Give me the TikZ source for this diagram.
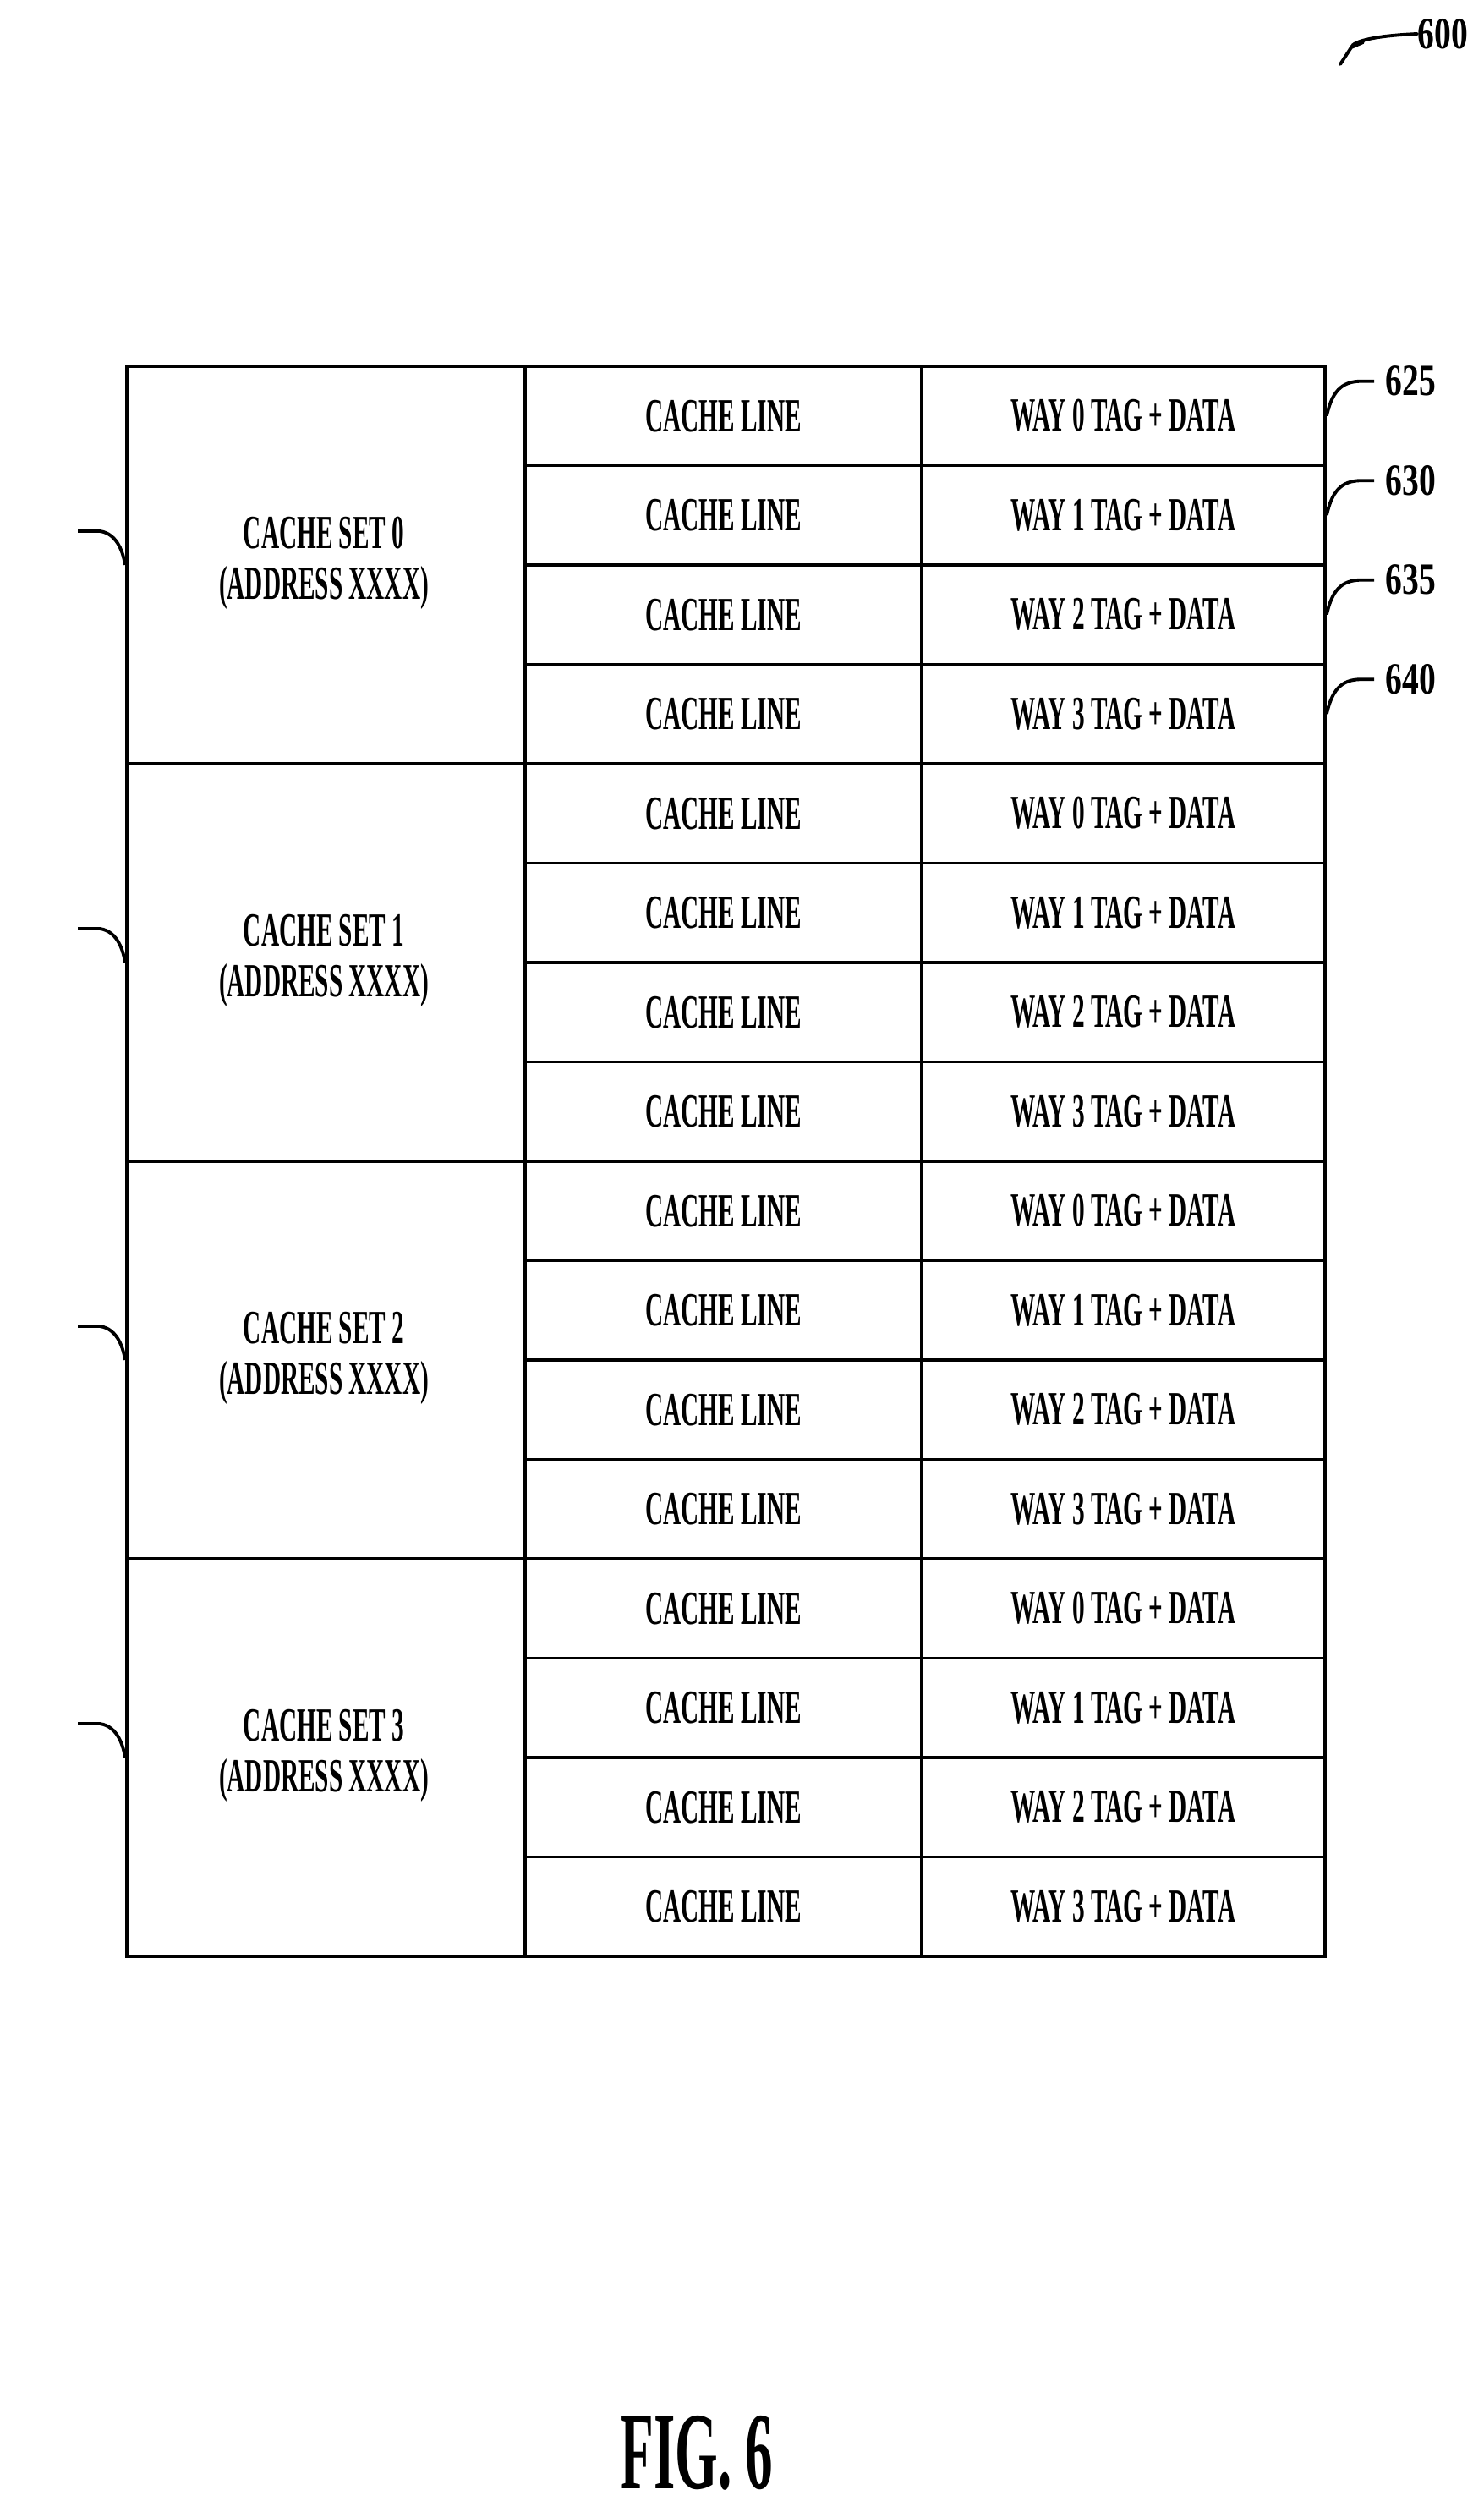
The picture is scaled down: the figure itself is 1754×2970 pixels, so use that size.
\documentclass[tikz,border=0pt]{standalone}
\usepackage{fontspec}
\setmainfont{Liberation Serif}
\usetikzlibrary{arrows.meta}
\newcommand{\cond}[2]{\scalebox{#1}[1]{#2}}
\begin{document}
\begin{tikzpicture}[x=0.01cm,y=-0.01cm,
  box/.style={draw,line width=1.1pt},
  txt/.style={font=\fontsize{16}{19}\selectfont\bfseries,align=center,inner sep=0},
  lab/.style={font=\fontsize{15}{18}\selectfont\bfseries,inner sep=0},
  lead/.style={line width=1.1pt}]
\useasboundingbox (0,0) rectangle (1754,2970);
% table
\foreach \s in {0,...,3}{
  \pgfmathsetmacro{\ty}{431+\s*470}
  \node[box,minimum width=471*0.01cm,minimum height=470*0.01cm,anchor=north west] (set\s) at (148,\ty) {};
  \node[txt] (st\s) at (383,\ty+235) {\cond{0.52}{CACHE SET \s}\\[-2pt]\cond{0.52}{(ADDRESS \ifcase\s 00\or 01\or 10\or 11\fi XXXX)}};
  \foreach \w in {0,...,3}{
    \pgfmathsetmacro{\ry}{\ty+\w*117.5}
    \node[box,minimum width=469*0.01cm,minimum height=117.5*0.01cm,anchor=north west] (cl\s\w) at (619,\ry) {};
    \node[box,minimum width=477*0.01cm,minimum height=117.5*0.01cm,anchor=north west] (wy\s\w) at (1088,\ry) {};
    \node[txt] at (cl\s\w.center) {\cond{0.52}{CACHE LINE}};
    \node[txt] at (wy\s\w.center) {\cond{0.52}{WAY \w{} TAG + DATA}};
  }
  \node[lab,font=\fontsize{14}{17}\selectfont\mdseries\bfseries] (L\s) at (47,\ty+194) {\cond{0.62}{\ifcase\s 605\or 610\or 615\or 620\fi}};
  \coordinate (a\s) at (92,\ty+197);
  \draw[lead] (a\s) -- (118,\ty+197) .. controls (140,\ty+200) and (146,\ty+225) .. (set\s.west);
}
% right labels
\foreach \w/\n in {0/625,1/630,2/635,3/640}{
  \pgfmathsetmacro{\ry}{431+\w*117.5+58.7}
  \coordinate (r\w) at (1625,\ry-39);
  \draw[lead] (wy0\w.east) .. controls (1575,\ry-25) and (1585,\ry-39) .. (1610,\ry-39) -- (r\w);
  \node[lab,anchor=west] at (1638,\ry-39) {\cond{0.75}{\n}};
}
% 600
\node[lab,anchor=west] (n600) at (1676,40) {\cond{0.75}{600}};
\coordinate (t600) at (1585,76);
\draw[lead,line cap=round] (n600.west) .. controls (1630,42) and (1600,48) .. (1598,56);
\draw[lead,line cap=round] (1612,50) -- (1598,56) -- (t600);
\node[font=\fontsize{37}{40}\selectfont\bfseries,inner sep=0] (fig) at (824,2900) {\cond{0.5}{FIG. 6}};
\end{tikzpicture}
\end{document}
